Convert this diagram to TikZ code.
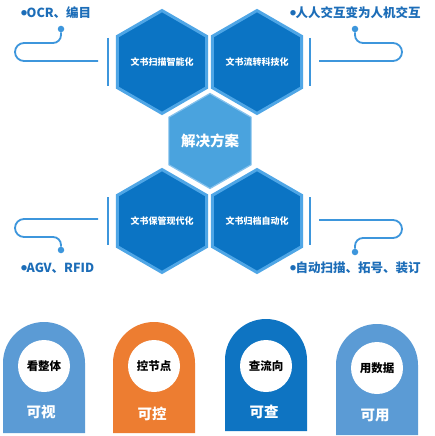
\documentclass[tikz,border=0pt]{standalone}
\usepackage{fontspec}
\newfontfamily\cjk{Noto Sans CJK SC}
\usetikzlibrary{shapes.geometric}
\definecolor{hexdark}{HTML}{0B74C4}
\definecolor{hexrim}{HTML}{4FA6E6}
\definecolor{hexmid}{HTML}{4AA3DE}
\definecolor{linec}{HTML}{3D96DC}
\definecolor{labc}{HTML}{1C6DB8}
\definecolor{cardlight}{HTML}{5B9BD5}
\definecolor{cardorange}{HTML}{ED7D31}
\definecolor{carddark}{HTML}{0E74C2}
\newcommand{\bul}{\raisebox{2pt}{\fontsize{6}{6}\selectfont ●}\hspace{-0.5pt}}
\tikzset{
  x=1pt, y=1pt,
  hexbox/.style={regular polygon, regular polygon sides=6, regular polygon rotate=30,
    minimum size=97pt, inner sep=0pt, fill=hexdark, draw=hexrim, line width=3pt,
    text=white, font=\cjk\bfseries\fontsize{9}{10}\selectfont},
  hexcenter/.style={regular polygon, regular polygon sides=6, regular polygon rotate=30,
    minimum size=95pt, inner sep=0pt, fill=hexmid, draw=hexrim!70!white, line width=1.2pt,
    text=white, font=\cjk\bfseries\fontsize{14.5}{16}\selectfont},
  conn/.style={draw=linec, line width=1.8pt},
  bar/.style={draw=linec, line width=1.8pt},
  dotc/.style={circle, fill=linec, inner sep=0pt, minimum size=6.5pt},
  lab/.style={anchor=west, text=labc, inner sep=0pt, font=\cjk\bfseries\fontsize{12.5}{14}\selectfont},
  circtext/.style={circle, fill=white, minimum size=52pt, inner sep=0pt, text=black,
    font=\cjk\bfseries\fontsize{11.5}{13}\selectfont},
  cardtext/.style={text=white, inner sep=0pt, font=\cjk\bfseries\fontsize{14.5}{16}\selectfont},
}
\begin{document}
\begin{tikzpicture}
\useasboundingbox (0,0) rectangle (435,-436);
\fill[white] (0,0) rectangle (435,-436);

% hexagons
\node[hexcenter] (hc) at (210,-141) {解决方案};
\node[hexbox] (h1) at (162,-62) {文书扫描智能化};
\node[hexbox] (h2) at (257,-62) {文书流转科技化};
\node[hexbox] (h3) at (162,-221) {文书保管现代化};
\node[hexbox] (h4) at (257,-221) {文书归档自动化};

% vertical bars
\draw[bar] (108,-38) -- (108,-86);
\draw[bar] (310,-38) -- (310,-86);
\draw[bar] (108,-197) -- (108,-245);
\draw[bar] (310,-197) -- (310,-245);

% dots and labels
\node[dotc] (d1) at (61,-29) {};
\node[dotc] (d2) at (355,-29) {};
\node[dotc] (d3) at (61,-250) {};
\node[dotc] (d4) at (355,-252) {};
\node[lab] (l1) at (21,-13) {\bul OCR、编目};
\node[lab] (l2) at (290,-13) {\bul 人人交互变为人机交互};
\node[lab] (l3) at (21,-268) {\bul AGV、RFID};
\node[lab] (l4) at (290,-268) {\bul 自动扫描、拓号、装订};

% connectors
\coordinate (s1) at (98,-61);
\coordinate (s2) at (319,-61);
\coordinate (s3) at (98,-219);
\coordinate (s4) at (319,-220);
\draw[conn] (s1) -- (24,-61) arc(270:90:9) -- (53,-43) arc(270:360:8) -- (d1);
\draw[conn] (s2) -- (393,-61) arc(270:450:9) -- (363,-43) arc(270:180:8) -- (d2);
\draw[conn] (s3) -- (24,-219) arc(90:270:9) -- (53,-237) arc(90:0:8) -- (d3);
\draw[conn] (s4) -- (393,-220) arc(90:-90:9) -- (363,-238) arc(90:180:8) -- (d4);

% cards
\fill[cardlight] (3,-433) -- (3,-363) arc(180:0:41) -- (85,-433) -- cycle;
\fill[cardorange] (113,-433) -- (113,-363) arc(180:0:41) -- (195,-433) -- cycle;
\fill[carddark] (225,-431) -- (225,-360) arc(180:0:41) -- (307,-431) -- cycle;
\fill[cardlight] (336,-435) -- (336,-365) arc(180:0:41) -- (418,-435) -- cycle;

\node[circtext] (c1) at (44,-366) {看整体};
\node[circtext] (c2) at (154,-366) {控节点};
\node[circtext] (c3) at (266,-366) {查流向};
\node[circtext] (c4) at (377,-368) {用数据};

\node[cardtext] (t1) at (41,-412) {可视};
\node[cardtext] (t2) at (152,-414) {可控};
\node[cardtext] (t3) at (264,-412) {可查};
\node[cardtext] (t4) at (375,-415) {可用};
\end{tikzpicture}
\end{document}
